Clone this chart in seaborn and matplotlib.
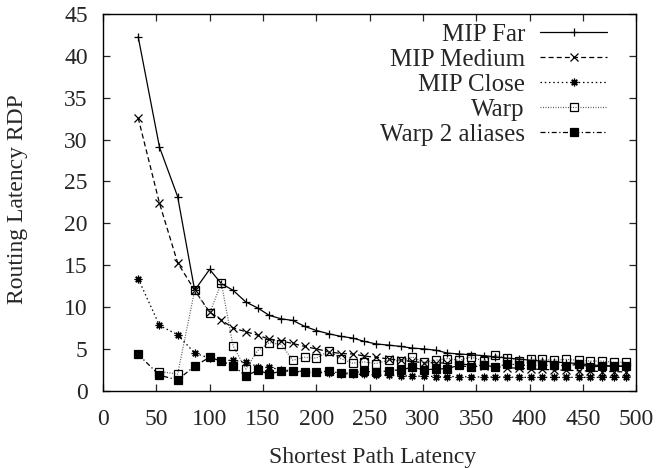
import numpy as np
import pandas as pd
import matplotlib
matplotlib.use("Agg")
import matplotlib.pyplot as plt
import seaborn as sns

# shortest path latency bins (x positions of the points)
latency = [33, 53, 70, 86, 100, 111, 122, 134, 145, 156, 167, 178, 189, 200,
           212, 223, 234, 245, 256, 268, 279, 290, 301, 312, 323, 334, 345,
           357, 368, 379, 390, 401, 412, 423, 434, 446, 457, 468, 479, 490]

mip_far = [42.3, 29.1, 23.2, 12.0, 14.5, 12.8, 12.0, 10.6, 9.9, 9.0, 8.6, 8.4,
           7.7, 7.2, 6.8, 6.5, 6.3, 5.9, 5.6, 5.45, 5.3, 5.1, 5.0, 4.85, 4.5,
           4.4, 4.3, 4.2, 4.05, 3.9, 3.8, 3.65, 3.55, 3.45, 3.35, 3.25, 3.1,
           3.0, 2.95, 2.9]
mip_medium = [32.6, 22.4, 15.3, 12.0, 9.4, 8.45, 7.5, 7.05, 6.65, 6.15, 5.95,
              5.65, 5.3, 5.0, 4.65, 4.45, 4.4, 4.15, 4.0, 3.8, 3.65, 3.5, 3.35,
              3.35, 3.3, 3.2, 3.1, 3.0, 2.9, 2.75, 2.7, 2.6, 2.55, 2.5, 2.45,
              2.4, 2.35, 2.3, 2.3, 2.25]
mip_close = [13.4, 7.8, 6.7, 4.5, 3.9, 3.6, 3.65, 3.4, 2.9, 2.8, 2.5, 2.4, 2.3,
             2.2, 2.1, 2.05, 2.0, 1.95, 1.9, 1.85, 1.8, 1.75, 1.75, 1.7, 1.7,
             1.7, 1.65, 1.65, 1.65, 1.65, 1.6, 1.6, 1.6, 1.6, 1.6, 1.6, 1.6,
             1.6, 1.6, 1.6]
warp = [np.nan, 2.3, 2.0, 12.0, 9.3, 12.85, 5.35, 2.6, 4.8, 5.75, 5.55, 3.65,
        4.0, 3.9, 4.75, 3.85, 3.3, 3.45, 3.25, 3.65, 3.55, 4.05, 3.4, 3.65,
        3.85, 3.65, 4.05, 3.55, 4.25, 3.95, 3.6, 3.75, 3.75, 3.65, 3.75, 3.65,
        3.55, 3.55, 3.4, 3.4]
warp2 = [4.35, 1.85, 1.3, 2.95, 4.0, 3.55, 3.0, 1.75, 2.45, 2.0, 2.35, 2.35,
         2.2, 2.2, 2.35, 2.1, 2.15, 2.35, 2.2, 2.4, 2.5, 2.8, 2.5, 2.6, 2.65,
         3.05, 2.8, 3.05, 2.8, 3.25, 3.05, 3.05, 3.05, 3.05, 3.0, 3.15, 2.85,
         2.95, 2.95, 2.95]

sns.set_style("ticks")
plt.rcParams['font.family'] = ['Liberation Serif', 'DejaVu Serif']

fig = plt.figure(figsize=(6.6, 4.68), dpi=100)
ax = fig.add_axes([0.156, 0.165, 0.808, 0.805])

# label, values, marker, linestyle, markerfacecolor, line colour
series = [
    ("MIP Far", mip_far, "+", "-", "black", "black"),
    ("MIP Medium", mip_medium, "x", (0, (4, 2.5)), "black", "black"),
    ("MIP Close", mip_close, (8, 2, 0), (0, (1.2, 2.2)), "black", "black"),
    ("Warp", warp, "s", (0, (0.8, 1.2)), "none", "0.35"),
    ("Warp 2 aliases", warp2, "s", (0, (4, 2, 1, 2)), "black", "black"),
]

for label, vals, mk, ls, mfc, col in series:
    df = pd.DataFrame({"x": latency, "y": vals}).dropna()
    sns.lineplot(data=df, x="x", y="y", ax=ax, label=label, color=col,
                 linestyle=ls, linewidth=0.9, marker=mk, markersize=5.5,
                 markerfacecolor=mfc, markeredgecolor="black",
                 markeredgewidth=0.9)

ax.set_xlim(0, 500)
ax.set_ylim(0, 45)
ax.set_xticks(range(0, 501, 50))
ax.set_yticks(range(0, 46, 5))
ax.tick_params(direction="in", top=True, right=True, length=5, width=0.9,
               labelsize=17)
ax.tick_params(axis="x", pad=13)
ax.tick_params(axis="y", pad=11)
for sp in ax.spines.values():
    sp.set_linewidth(1.0)
    sp.set_color("black")

ax.set_xlabel("Shortest Path Latency", fontsize=17)
ax.set_ylabel("Routing Latency RDP", fontsize=17)
ax.xaxis.set_label_coords(0.505, -0.15)
ax.yaxis.set_label_coords(-0.14, 0.51)

ax.legend(loc="upper right", bbox_to_anchor=(0.946, 0.975), frameon=False,
          markerfirst=False, fontsize=18, handlelength=2.7,
          labelspacing=0.1, handletextpad=0.6, borderaxespad=0.0,
          borderpad=0.0)

fig.savefig("out.png", dpi=100)
